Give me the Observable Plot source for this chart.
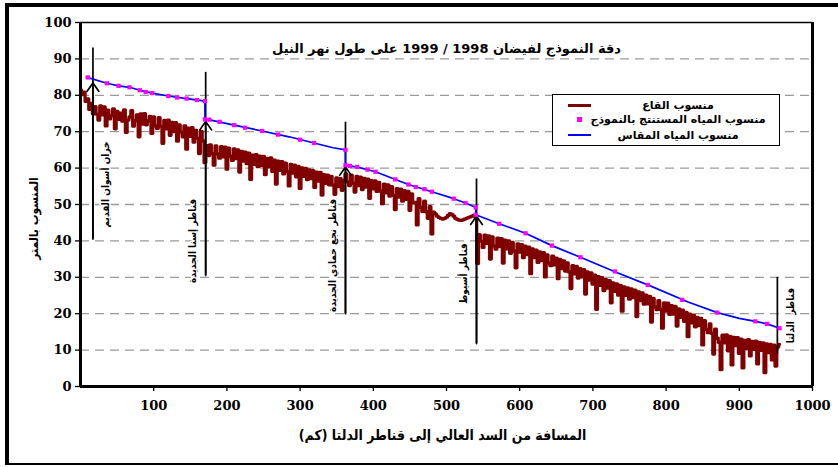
<!DOCTYPE html>
<html lang="ar">
<head>
<meta charset="utf-8">
<script src="https://cdn.jsdelivr.net/npm/d3@7"></script>
<script src="https://cdn.jsdelivr.net/npm/@observablehq/plot@0.6"></script>
<style>
  html, body { margin: 0; padding: 0; background: #fff; }
  #wrap { position: relative; width: 838px; height: 467px; overflow: hidden; background: #fff; }
  #wrap svg { position: absolute; left: 0; top: 0; }
  #border { position: absolute; left: 5px; top: 3px; width: 840px; height: 456px;
            border-left: 4px solid #000; border-top: 4px solid #000; border-bottom: 2px solid #000; }
  #legend { position: absolute; left: 552px; top: 94px; width: 228px; height: 52px;
            border: 1px solid #000; background: #fff; box-sizing: border-box;
            font: bold 11px "DejaVu Sans", sans-serif; color: #000; }
  #legend .row { position: absolute; left: 0; width: 100%; height: 0; }
  #legend .sym { position: absolute; }
  #legend .txt { position: absolute; left: 125px; transform: translate(-50%, -50%); white-space: nowrap; direction: rtl; }
</style>
</head>
<body>
<div id="wrap"></div>
<script>
// River bed profile along the Nile: [km from the High Dam, bed level (m)]
const bedProfile = [
  [0,81.5],[2.5,80.2],[5,80.9],[7.5,78.3],[10,79.0],[12.5,76.1],[15,77.8],[17.5,74.9],[20,76.9],[22.5,74.8],
  [25,73.2],[27.5,77.1],[30,74.6],[32.5,76.8],[35,71.6],[37.5,75.9],[40,73.5],[42.5,74.4],[45,76.3],[47.5,70.8],
  [50,75.6],[52.5,73.4],[55,75.1],[57.5,72.9],[60,76.0],[62.5,69.8],[65,73.2],[67.5,74.1],[70,75.8],[72.5,71.5],
  [75,73.0],[77.5,74.6],[80,68.6],[82.5,74.9],[85,72.1],[87.5,75.0],[90,71.9],[92.5,73.0],[95,74.2],[97.5,69.5],
  [100,74.1],[102.5,71.6],[105,70.9],[107.5,73.9],[110,71.5],[112.5,66.8],[115,73.1],[117.5,70.8],[120,73.2],[122.5,69.0],
  [125,72.6],[127.5,70.0],[130,72.5],[132.5,67.4],[135,71.9],[137.5,69.9],[140,68.6],[142.5,71.6],[145,65.2],[147.5,71.0],
  [150,68.7],[152.5,71.1],[155,67.1],[157.5,70.4],[160,68.2],[162.5,64.0],[165,70.1],[167.5,67.5],[170,61.5],[172.5,66.2],
  [175,63.4],[177.5,66.4],[180,64.0],[182.5,60.8],[185,66.1],[187.5,63.9],[190,62.7],[192.5,65.9],[195,63.1],[197.5,65.8],
  [200,59.7],[202.5,65.5],[205,63.2],[207.5,62.1],[210,65.3],[212.5,62.6],[215,65.0],[217.5,58.9],[220,64.6],[222.5,61.9],
  [225,64.4],[227.5,61.2],[230,64.1],[232.5,56.9],[235,63.6],[237.5,61.0],[240,63.7],[242.5,60.4],[245,63.3],[247.5,60.7],
  [250,63.2],[252.5,58.2],[255,62.7],[257.5,60.3],[260,62.8],[262.5,59.1],[265,62.2],[267.5,55.6],[270,61.9],[272.5,59.4],
  [275,61.8],[277.5,58.4],[280,61.4],[282.5,59.0],[285,55.1],[287.5,61.0],[290,58.6],[292.5,60.8],[295,57.6],[297.5,60.5],
  [300,54.4],[302.5,60.1],[305,57.7],[307.5,59.9],[310,56.8],[312.5,59.5],[315,57.1],[317.5,59.3],[320,54.7],[322.5,58.9],
  [325,56.4],[327.5,58.8],[330,52.6],[332.5,58.2],[335,55.8],[337.5,58.1],[340,55.4],[342.5,57.7],[345,55.3],[347.5,52.8],
  [350,57.3],[352.5,54.9],[355,57.1],[357.5,53.9],[360,56.6],[362.5,58.4],[365,56.2],[367.5,55.2],[370,58.1],[372.5,55.8],
  [375,53.4],[377.5,57.7],[380,55.2],[382.5,57.5],[385,54.1],[387.5,57.2],[390,54.8],[392.5,57.0],[395,51.7],[397.5,56.6],
  [400,54.3],[402.5,56.5],[405,53.6],[407.5,56.1],[410,53.7],[412.5,50.2],[415,55.6],[417.5,53.2],[420,55.4],[422.5,52.3],
  [425,54.9],[427.5,52.5],[430,48.6],[432.5,54.4],[435,52.0],[437.5,54.2],[440,50.9],[442.5,53.8],[445,51.4],[447.5,53.6],
  [450,48.4],[452.5,52.9],[455,50.5],[457.5,50.6],[460,44.4],[462.5,51.6],[465,49.2],[467.5,48.1],[470,50.9],[472.5,48.0],
  [475,46.2],[477.5,49.4],[480,41.9],[482.5,47.9],[485,47.4],[487.5,46.8],[490,46.4],[492.5,46.2],[495,46.0],[497.5,46.2],
  [500,46.5],[502.5,47.0],[505,47.5],[507.5,47.3],[510,46.8],[512.5,46.2],[515,45.9],[517.5,45.7],[520,45.6],[522.5,45.8],
  [525,46.0],[527.5,46.2],[530,46.4],[532.5,46.6],[535,46.8],[537.5,47.0],[540,46.6],[542.5,33.8],[545,41.7],[547.5,39.9],
  [550,38.2],[552.5,41.6],[555,39.3],[557.5,41.4],[560,35.0],[562.5,41.1],[565,38.6],[567.5,37.7],[570,40.8],[572.5,38.4],
  [575,40.6],[577.5,33.9],[580,40.2],[582.5,37.8],[585,40.0],[587.5,36.6],[590,39.6],[592.5,37.2],[595,32.6],[597.5,39.2],
  [600,36.9],[602.5,39.0],[605,35.4],[607.5,38.6],[610,36.2],[612.5,38.3],[615,31.0],[617.5,37.8],[620,35.4],[622.5,37.5],
  [625,34.1],[627.5,37.0],[630,34.6],[632.5,36.8],[635,30.1],[637.5,36.2],[640,33.9],[642.5,33.2],[645,35.8],[647.5,33.4],
  [650,35.3],[652.5,29.6],[655,34.9],[657.5,32.4],[660,34.5],[662.5,31.7],[665,34.0],[667.5,31.5],[670,26.9],[672.5,33.2],
  [675,30.9],[677.5,33.0],[680,29.8],[682.5,32.4],[685,30.1],[687.5,32.1],[690,25.4],[692.5,31.5],[695,29.2],[697.5,31.2],
  [700,28.1],[702.5,30.6],[705,21.2],[707.5,30.2],[710,27.8],[712.5,29.9],[715,26.3],[717.5,29.4],[720,27.0],[722.5,29.1],
  [725,23.0],[727.5,28.5],[730,26.1],[732.5,28.2],[735,25.1],[737.5,27.8],[740,20.7],[742.5,27.4],[745,25.0],[747.5,27.1],
  [750,24.0],[752.5,26.8],[755,24.4],[757.5,26.5],[760,19.2],[762.5,26.0],[765,23.6],[767.5,25.7],[770,22.6],[772.5,25.1],
  [775,22.7],[777.5,24.8],[780,17.7],[782.5,24.2],[785,21.8],[787.5,21.1],[790,23.6],[792.5,21.2],[795,16.0],[797.5,23.0],
  [800,20.7],[802.5,22.9],[805,19.8],[807.5,22.2],[810,19.9],[812.5,22.0],[815,16.6],[817.5,21.3],[820,19.0],[822.5,21.0],
  [825,17.9],[827.5,20.4],[830,13.7],[832.5,19.9],[835,17.5],[837.5,19.6],[840,16.4],[842.5,19.0],[845,16.7],[847.5,18.7],
  [850,11.4],[852.5,18.1],[855,15.7],[857.5,14.8],[860,17.2],[862.5,14.6],[865,8.9],[867.5,15.8],[870,13.3],[872.5,12.1],
  [875,4.6],[877.5,14.1],[880,12.0],[882.5,14.2],[885,9.8],[887.5,13.8],[890,5.9],[892.5,13.5],[895,11.2],[897.5,13.4],
  [900,9.1],[902.5,13.0],[905,5.1],[907.5,12.7],[910,10.5],[912.5,12.9],[915,8.4],[917.5,12.4],[920,10.2],[922.5,12.5],
  [925,6.2],[927.5,12.1],[930,9.9],[932.5,12.0],[935,3.8],[937.5,11.7],[940,9.3],[942.5,11.6],[945,7.3],[947.5,11.4],
  [950,5.6],[952.5,10.8],[955,11.6]
];

// Measured water level (m); repeated km marks the head drop at each barrage
const measuredKm    = [8, 36, 52, 67, 81, 98, 120, 145, 170, 170, 178, 205, 248, 285, 319, 345, 362, 362, 380, 403, 425, 448, 480, 510, 526, 540, 540, 572, 608, 644, 683, 730, 780, 830, 870, 900, 922, 938, 955];
const measuredLevel = [85.0, 83.3, 82.6, 82.2, 81.4, 80.6, 79.8, 79.1, 78.4, 73.4, 73.2, 72.0, 70.2, 68.6, 66.9, 65.6, 65.0, 60.8, 60.2, 59.0, 57.3, 55.5, 53.5, 51.6, 50.4, 49.2, 47.2, 44.7, 42.1, 38.7, 35.5, 31.5, 27.5, 23.2, 20.3, 18.7, 17.9, 17.2, 16.0];

// Water level computed by the model (m)
const modelKm    = [10, 36, 52, 67, 81, 89, 98, 120, 132, 145, 159, 170, 170, 176, 190, 210, 225, 248, 270, 300, 319, 362, 362, 368, 378, 392, 403, 430, 448, 458, 470, 480, 510, 526, 540, 540, 572, 608, 644, 683, 730, 775, 822, 870, 922, 938, 955];
const modelLevel = [84.9, 83.3, 82.6, 82.2, 81.4, 80.9, 80.6, 79.8, 79.4, 79.1, 78.7, 78.4, 73.4, 73.3, 72.7, 71.8, 71.1, 70.2, 69.2, 67.8, 66.9, 65.0, 60.8, 60.6, 60.3, 59.6, 59.0, 56.9, 55.5, 54.8, 54.2, 53.5, 51.6, 50.4, 49.2, 47.2, 44.7, 42.1, 38.7, 35.5, 31.6, 27.9, 23.8, 20.3, 17.9, 17.2, 16.0];

// Barrages along the river
const structureNames  = ["خزان أسوان القديم", "قناطر إسنا الجديدة", "قناطر نجع حمادي الجديدة", "قناطر أسيوط", "قناطر  الدلتا"];
const structureKm     = [17, 171, 362, 541, 952];
const structureTop    = [93.0, 86.3, 72.6, 57.0, 30.0];
const structureBottom = [40.5, 30.5, 20.0, 11.8, 9.0];
const structureArrow  = [83.4, 72.8, 60.3, 46.8, null];
const structureLabelY = [55.5, 40.0, 36.0, 31.0, 19.5];
const structureSide   = ["right", "left", "left", "left", "right"];

const xTicks = [100, 200, 300, 400, 500, 600, 700, 800, 900, 1000];
const yTicks = [0, 10, 20, 30, 40, 50, 60, 70, 80, 90, 100];
const gridLevels = [10, 20, 30, 40, 50, 60, 70, 80, 90];

const titleText = "دقة النموذج لفيضان 1998 / 1999 على طول نهر النيل";
const xTitle = "المسافة من السد العالي إلى قناطر الدلتا (كم)";
const yTitle = "المنسوب بالمتر";
const legendLabels = ["منسوب القاع", "منسوب المياه المستنتج بالنموذج", "منسوب المياه المقاس"];

const bed = bedProfile.map(([km, level]) => ({km, level}));
const measured = measuredKm.map((km, i) => ({km, level: measuredLevel[i]}));
const model = modelKm.map((km, i) => ({km, level: modelLevel[i]}));
const structures = structureNames.map((name, i) => ({
  name, km: structureKm[i], top: structureTop[i], bottom: structureBottom[i],
  tip: structureArrow[i], labelY: structureLabelY[i], side: structureSide[i]
}));

const arabic = {fontFamily: "'DejaVu Sans'", fontWeight: "bold"};
const arabicNarrow = {fontFamily: "'DejaVu Sans Condensed', 'DejaVu Sans'", fontWeight: "bold"};

const chart = Plot.plot({
  width: 838,
  height: 467,
  marginLeft: 80,
  marginRight: 26,
  marginTop: 22,
  marginBottom: 81,
  style: {fontFamily: "DejaVu Serif", fontSize: "13px", fontWeight: "bold", background: "transparent", overflow: "visible"},
  x: {domain: [0, 1000]},
  y: {domain: [0, 100]},
  marks: [
    Plot.ruleY(gridLevels, {stroke: "#9a9a9a", strokeWidth: 1.3, strokeDasharray: "9,6"}),
    Plot.text([titleText], {frameAnchor: "top", dy: 21, fontSize: 13, ...arabic}),
    Plot.line(bed, {x: "km", y: "level", curve: "step", stroke: "#800000", strokeWidth: 3.2}),
    Plot.ruleX(structures, {x: "km", y1: "bottom", y2: "top", stroke: "#000", strokeWidth: 1.7}),
    Plot.arrow(structures.filter(d => d.tip != null), {x1: "km", x2: "km", y1: "bottom", y2: "tip", stroke: "#000", strokeWidth: 1.7, headLength: 9, headAngle: 70}),
    Plot.line(measured, {x: "km", y: "level", stroke: "#0000ff", strokeWidth: 1.7}),
    Plot.dot(model, {x: "km", y: "level", symbol: "square", r: 2.4, fill: "#ff00ff", stroke: "none"}),
    Plot.text(structures.filter(d => d.side === "right"), {x: "km", y: "labelY", text: "name", rotate: -90, dx: 13, fontSize: 10, stroke: "#fff", strokeWidth: 3, fill: "#000", ...arabicNarrow}),
    Plot.text(structures.filter(d => d.side === "left"), {x: "km", y: "labelY", text: "name", rotate: -90, dx: -13, fontSize: 10, stroke: "#fff", strokeWidth: 3, fill: "#000", ...arabicNarrow}),
    Plot.ruleX([0, 1000], {stroke: "#000", strokeWidth: 3}),
    Plot.ruleY([0], {stroke: "#000", strokeWidth: 3}),
    Plot.ruleY([100], {stroke: "#000", strokeWidth: 1.5}),
    Plot.axisY(yTicks, {tickSize: 5, tickPadding: 4, label: null, tickFormat: d => String(d), stroke: "#000", strokeWidth: 1.3}),
    Plot.axisX(xTicks, {tickSize: 5, tickPadding: 9, label: null, tickFormat: d => String(d), stroke: "#000", strokeWidth: 1.3}),
    Plot.text([xTitle], {frameAnchor: "bottom", dy: 53, dx: -4, fontSize: 14, ...arabicNarrow}),
    Plot.text([yTitle], {frameAnchor: "left", textAnchor: "middle", dx: -46, dy: 14, rotate: -90, fontSize: 12, ...arabicNarrow})
  ]
});

const wrap = document.getElementById("wrap");
wrap.appendChild(chart);

const border = document.createElement("div");
border.id = "border";
wrap.appendChild(border);

// Legend box drawn inside the plot area
const legend = document.createElement("div");
legend.id = "legend";
const rowTops = [10, 24, 40];
const symbols = [
  `<div class="sym" style="left:15px;top:-1.5px;width:23px;height:3px;background:#800000"></div>`,
  `<div class="sym" style="left:24px;top:-2.5px;width:5px;height:5px;background:#ff00ff"></div>`,
  `<div class="sym" style="left:15px;top:-1px;width:23px;height:2px;background:#0000ff"></div>`
];
legendLabels.forEach((label, i) => {
  const row = document.createElement("div");
  row.className = "row";
  row.style.top = rowTops[i] + "px";
  row.innerHTML = symbols[i] + `<div class="txt">${label}</div>`;
  legend.appendChild(row);
});
wrap.appendChild(legend);
</script>
</body>
</html>
